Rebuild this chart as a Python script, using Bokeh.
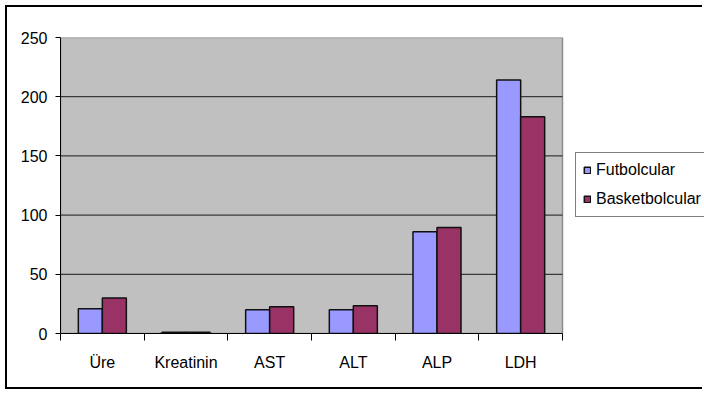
from bokeh.plotting import figure
from bokeh.models import FixedTicker, Legend, LegendItem, ColumnDataSource, Range1d
from bokeh.transform import dodge
from bokeh.embed import file_html
from bokeh.resources import INLINE

categories = ["Üre", "Kreatinin", "AST", "ALT", "ALP", "LDH"]
futbolcular = [21, 1.0, 20, 20, 86, 214]
basketbolcular = [30, 1.1, 22.5, 23.5, 89.5, 183]
y_ticks = [0, 50, 100, 150, 200, 250]
grid_ticks = [50, 100, 150, 200]

n = len(categories)
centers = [i + 0.5 for i in range(n)]
source = ColumnDataSource(dict(x=centers, cat=categories, f=futbolcular, b=basketbolcular))

FONT = "Liberation Sans"

# layout (pixels)
W, H = 697, 384
BL, BT, BB = 53, 30, 58
plot_area_px = 502            # width of the grey plot area
frame_px = W - BL             # frame extends to the right edge so the legend is not clipped
x_end = n * frame_px / plot_area_px

p = figure(width=W, height=H, output_backend="svg", toolbar_location=None,
           x_range=Range1d(0, x_end), y_range=Range1d(0, y_ticks[-1]),
           min_border_left=BL, min_border_top=BT, min_border_bottom=BB, min_border_right=0)
p.styles = {"margin-left": "5px", "margin-top": "5px",
            "border-left": "2px solid black", "border-top": "2px solid black",
            "border-bottom": "2px solid black"}

p.background_fill_color = "white"
p.border_fill_color = "white"
p.outline_line_color = None
p.xgrid.visible = False
p.ygrid.visible = False

# grey plot area
p.quad(left=[0], right=[n], bottom=[y_ticks[0]], top=[y_ticks[-1]],
       fill_color="#C0C0C0", line_color="#8c8c8c", line_width=1.5, level="image")
# horizontal grid lines limited to the plot area
p.segment(x0=[0] * len(grid_ticks), x1=[n] * len(grid_ticks), y0=grid_ticks, y1=grid_ticks,
          line_color="#1a1a1a", line_width=1, level="underlay")

bw = 0.287
r1 = p.vbar(x=dodge("x", -bw / 2, range=p.x_range), top="f", width=bw, source=source,
            fill_color="#9999FF", line_color="#111111", line_width=1.5)
r2 = p.vbar(x=dodge("x", bw / 2, range=p.x_range), top="b", width=bw, source=source,
            fill_color="#993366", line_color="#111111", line_width=1.5)

# x axis: ticks between categories, labels at centers
p.xaxis.bounds = (0, n)
p.xaxis.ticker = FixedTicker(ticks=centers, minor_ticks=list(range(n + 1)))
p.xaxis.major_label_overrides = {c: cat for c, cat in zip(centers, categories)}
p.xaxis.major_tick_out = 0
p.xaxis.major_tick_in = 0
p.xaxis.minor_tick_out = 7
p.xaxis.minor_tick_in = 0
p.xaxis.minor_tick_line_color = "black"
p.xaxis.major_label_standoff = 13
p.xaxis.axis_line_color = "black"

p.yaxis.ticker = FixedTicker(ticks=y_ticks)
p.yaxis.major_tick_out = 5
p.yaxis.major_tick_in = 0
p.yaxis.minor_tick_out = 0
p.yaxis.minor_tick_in = 0
p.yaxis.major_label_standoff = 8
p.yaxis.axis_line_color = "black"

for ax in (p.xaxis, p.yaxis):
    ax.major_label_text_font = FONT
    ax.major_label_text_font_size = "16px"
    ax.major_label_text_color = "black"

legend = Legend(items=[LegendItem(label="Futbolcular", renderers=[r1]),
                       LegendItem(label="Basketbolcular", renderers=[r2])],
                location=(plot_area_px + 13, 116))
legend.border_line_color = "black"
legend.border_line_width = 1
legend.background_fill_color = "white"
legend.background_fill_alpha = 1
legend.padding = 7
legend.spacing = 9
legend.margin = 0
legend.label_height = 20
legend.glyph_height = 8
legend.glyph_width = 8
legend.label_standoff = 5
legend.label_text_font = FONT
legend.label_text_font_size = "16px"
legend.label_text_color = "black"
p.add_layout(legend, "center")

open("out.html", "w").write(file_html(p, INLINE))
